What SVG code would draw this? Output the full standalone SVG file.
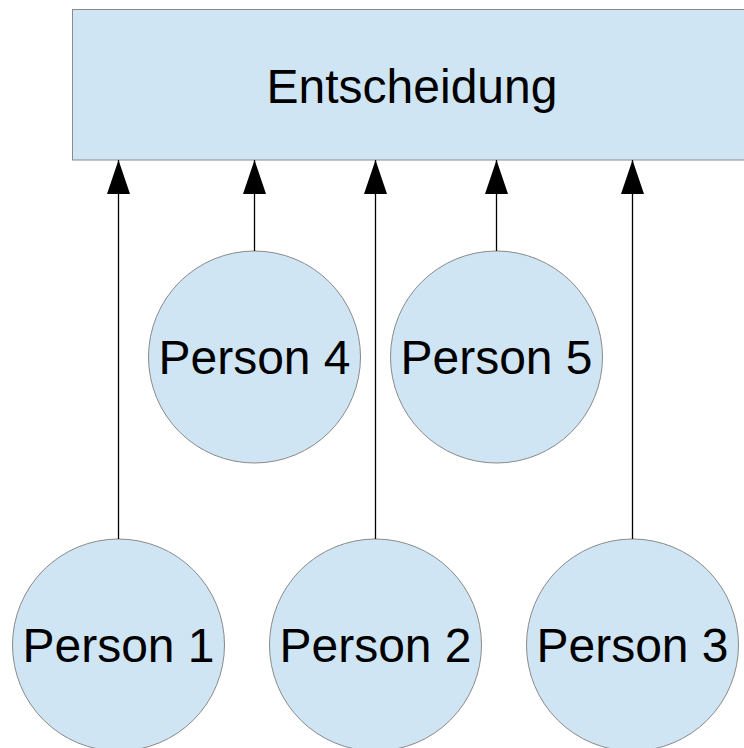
<svg xmlns="http://www.w3.org/2000/svg" width="744" height="748" viewBox="0 0 744 748">
<style>
.shape{fill:#cfe5f3;stroke:#8a8a8a;stroke-width:1}
.lbl{font-family:"Liberation Sans",Arial,sans-serif;font-size:48px;fill:#000;text-anchor:middle}
.conn{stroke:#000;stroke-width:1.3;fill:none;marker-end:url(#ah)}
</style>
<defs>
<marker id="ah" markerUnits="userSpaceOnUse" markerWidth="34" markerHeight="23" refX="34" refY="11.5" orient="auto" viewBox="0 0 34 23">
<path d="M0,0 L34,11.5 L0,23 Z" fill="#000"/>
</marker>
</defs>
<rect width="744" height="748" fill="#fff"/>
<g id="entscheidung">
<rect class="shape" x="72.5" y="9.5" width="690" height="150.5"/>
<text class="lbl" x="412" y="103">Entscheidung</text>
</g>
<g id="person4">
<circle class="shape" cx="254.5" cy="357" r="106"/>
<text class="lbl" x="254.5" y="374">Person 4</text>
</g>
<g id="person5">
<circle class="shape" cx="496.5" cy="357" r="106"/>
<text class="lbl" x="496.5" y="374">Person 5</text>
</g>
<g id="person1">
<circle class="shape" cx="118.5" cy="645" r="106"/>
<text class="lbl" x="118.5" y="662">Person 1</text>
</g>
<g id="person2">
<circle class="shape" cx="375.5" cy="645" r="106"/>
<text class="lbl" x="375.5" y="662">Person 2</text>
</g>
<g id="person3">
<circle class="shape" cx="632.5" cy="645" r="106"/>
<text class="lbl" x="632.5" y="662">Person 3</text>
</g>
<g id="connectors">
<line class="conn" x1="118.5" y1="539" x2="118.5" y2="160"/>
<line class="conn" x1="375.5" y1="539" x2="375.5" y2="160"/>
<line class="conn" x1="632.5" y1="539" x2="632.5" y2="160"/>
<line class="conn" x1="254.5" y1="251" x2="254.5" y2="160"/>
<line class="conn" x1="496.5" y1="251" x2="496.5" y2="160"/>
</g>
</svg>
